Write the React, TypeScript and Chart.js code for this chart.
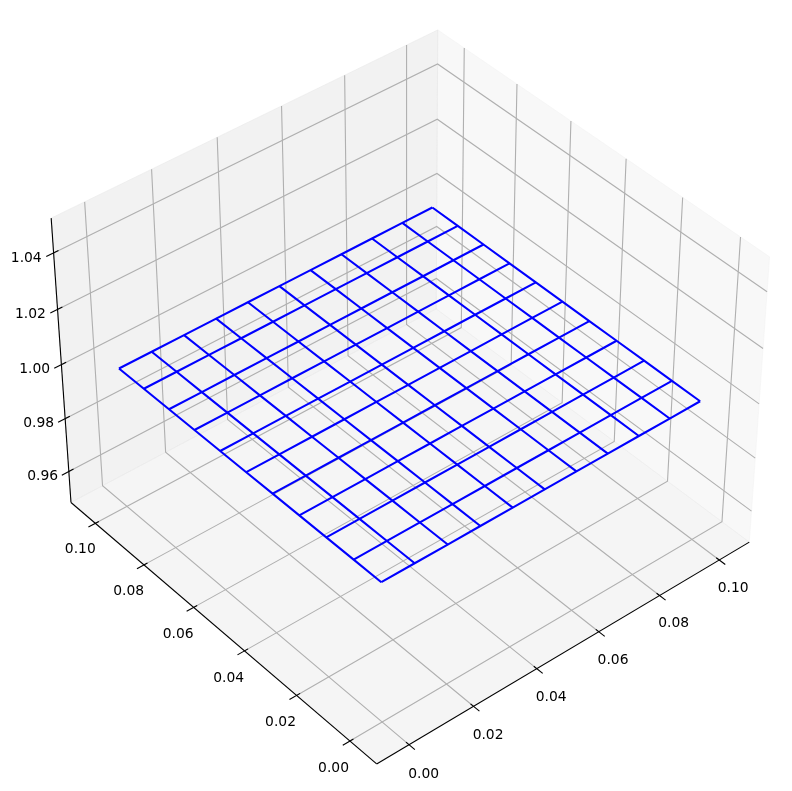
import React, { useEffect, useRef } from "react";
import { Chart, registerables } from "chart.js";

Chart.register(...registerables);

// ---- data -------------------------------------------------------------
const wireX = [0.0, 0.01, 0.02, 0.03, 0.04, 0.05, 0.06, 0.07, 0.08, 0.09, 0.1];
const wireY = [0.0, 0.01, 0.02, 0.03, 0.04, 0.05, 0.06, 0.07, 0.08, 0.09, 0.1];
const wireZ = 1.0;

const xTicks = [0.0, 0.02, 0.04, 0.06, 0.08, 0.1];
const yTicks = [0.0, 0.02, 0.04, 0.06, 0.08, 0.1];
const zTicks = [0.96, 0.98, 1.0, 1.02, 1.04];
const xTickLabels = ["0.00", "0.02", "0.04", "0.06", "0.08", "0.10"];
const yTickLabels = ["0.00", "0.02", "0.04", "0.06", "0.08", "0.10"];
const zTickLabels = ["0.96", "0.98", "1.00", "1.02", "1.04"];

const xLim = [-0.00986, 0.11022];
const yLim = [-0.00986, 0.11022];
const zLim = [0.9481, 1.0521];

// ---- view (matplotlib mplot3d camera) ----------------------------------
const W = 792, H = 791;
const ELEV = 40, AZIM = -130, DIST = 10;
const SCALE = 4160.2, CX = 408.29, CY = 383.87;
const K = (1.8294640721620434 * (25 / 24)) / Math.sqrt(41);
const BOX = [4 * K, 4 * K, 3 * K];

const e = (ELEV * Math.PI) / 180, a = (AZIM * Math.PI) / 180;
const vw = [Math.cos(e) * Math.cos(a), Math.cos(e) * Math.sin(a), Math.sin(e)];
const un = Math.hypot(vw[0], vw[1]);
const vu = [-vw[1] / un, vw[0] / un, 0];
const vv = [
  vw[1] * vu[2] - vw[2] * vu[1],
  vw[2] * vu[0] - vw[0] * vu[2],
  vw[0] * vu[1] - vw[1] * vu[0],
];
const eye = BOX.map((b, i) => b / 2 + DIST * vw[i]);
const dot = (p: number[], q: number[]) => p[0] * q[0] + p[1] * q[1] + p[2] * q[2];

// project box-normalised coordinates (0..1 on each axis) to view coordinates
function pn(u: number, v: number, t: number) {
  const d = [u * BOX[0] - eye[0], v * BOX[1] - eye[1], t * BOX[2] - eye[2]];
  const zz = -dot(vw, d);
  return { x: dot(vu, d) / zz, y: dot(vv, d) / zz };
}
const nx = (v: number) => (v - xLim[0]) / (xLim[1] - xLim[0]);
const ny = (v: number) => (v - yLim[0]) / (yLim[1] - yLim[0]);
const nz = (v: number) => (v - zLim[0]) / (zLim[1] - zLim[0]);

// ---- styles ------------------------------------------------------------
const GRID = "rgb(176,176,176)";
const THIN = 1.11;

function line(pts: { x: number; y: number }[], color: string, width: number, extra: object = {}) {
  return {
    data: pts,
    showLine: true,
    borderColor: color,
    borderWidth: width,
    pointRadius: 0,
    fill: false,
    clip: false,
    tension: 0,
    ...extra,
  };
}
function pane(corners: number[][], grey: number) {
  const c = `rgba(${grey},${grey},${grey},0.5)`;
  const pts = [...corners, corners[0]].map((q) => pn(q[0], q[1], q[2]));
  return line(pts, c, 1.0, { fill: "shape", backgroundColor: c });
}

function buildDatasets() {
  const out: any[] = [];
  // panes
  out.push(pane([[1, 0, 0], [1, 1, 0], [1, 1, 1], [1, 0, 1]], 242));
  out.push(pane([[0, 1, 0], [1, 1, 0], [1, 1, 1], [0, 1, 1]], 230));
  out.push(pane([[0, 0, 0], [1, 0, 0], [1, 1, 0], [0, 1, 0]], 236));
  // grid
  xTicks.forEach((t) => {
    const u = nx(t);
    out.push(line([pn(u, 0, 0), pn(u, 1, 0), pn(u, 1, 1)], GRID, THIN));
  });
  yTicks.forEach((t) => {
    const v = ny(t);
    out.push(line([pn(0, v, 0), pn(1, v, 0), pn(1, v, 1)], GRID, THIN));
  });
  zTicks.forEach((t) => {
    const h = nz(t);
    out.push(line([pn(0, 1, h), pn(1, 1, h), pn(1, 0, h)], GRID, THIN));
  });
  // axis lines
  out.push(line([pn(0, 0, 0), pn(1, 0, 0)], "#000", THIN));
  out.push(line([pn(0, 0, 0), pn(0, 1, 0)], "#000", THIN));
  out.push(line([pn(0, 1, 0), pn(0, 1, 1)], "#000", THIN));
  // tick marks
  xTicks.forEach((t) => out.push(line([pn(nx(t), -0.018, 0), pn(nx(t), 0.009, 0)], "#000", THIN)));
  yTicks.forEach((t) => out.push(line([pn(-0.018, ny(t), 0), pn(0.009, ny(t), 0)], "#000", THIN)));
  zTicks.forEach((t) => out.push(line([pn(-0.018, 1, nz(t)), pn(0.012, 1, nz(t))], "#000", THIN)));
  // wireframe
  wireY.forEach((yv) =>
    out.push(line(wireX.map((xv) => pn(nx(xv), ny(yv), nz(wireZ))), "#0000ff", 2.08, { borderJoinStyle: "round" }))
  );
  wireX.forEach((xv) =>
    out.push(line(wireY.map((yv) => pn(nx(xv), ny(yv), nz(wireZ))), "#0000ff", 2.08, { borderJoinStyle: "round" }))
  );
  // chart.js paints the first dataset last
  return out.reverse();
}

const tickLabelPlugin = {
  id: "tickLabels3d",
  afterDatasetsDraw(chart: any) {
    const { ctx, scales } = chart;
    ctx.save();
    ctx.fillStyle = "#000";
    ctx.font = '13.89px "DejaVu Sans"';
    ctx.textAlign = "center";
    ctx.textBaseline = "middle";
    const put = (p: { x: number; y: number }, s: string) =>
      ctx.fillText(s, scales.x.getPixelForValue(p.x), scales.y.getPixelForValue(p.y));
    xTicks.forEach((t, i) => put(pn(nx(t), -0.045, -0.062), xTickLabels[i]));
    yTicks.forEach((t, i) => put(pn(-0.042, ny(t), -0.066), yTickLabels[i]));
    zTicks.forEach((t, i) => put(pn(-0.051, 1.022, nz(t)), zTickLabels[i]));
    ctx.restore();
  },
};

export default function App() {
  const ref = useRef<HTMLCanvasElement>(null);
  useEffect(() => {
    const chart = new Chart(ref.current as HTMLCanvasElement, {
      type: "scatter",
      data: { datasets: buildDatasets() },
      options: {
        animation: false,
        responsive: false,
        layout: { padding: 0 },
        plugins: { legend: { display: false }, tooltip: { enabled: false }, title: { display: false } },
        scales: {
          x: { type: "linear", display: false, min: -CX / SCALE, max: (W - CX) / SCALE },
          y: { type: "linear", display: false, min: (CY - H) / SCALE, max: CY / SCALE },
        },
      },
      plugins: [tickLabelPlugin],
    } as any);
    return () => chart.destroy();
  }, []);
  return (
    <canvas
      ref={ref}
      width={W}
      height={H}
      style={{ position: "absolute", left: 0, top: 0, width: W, height: H, display: "block" }}
    />
  );
}
